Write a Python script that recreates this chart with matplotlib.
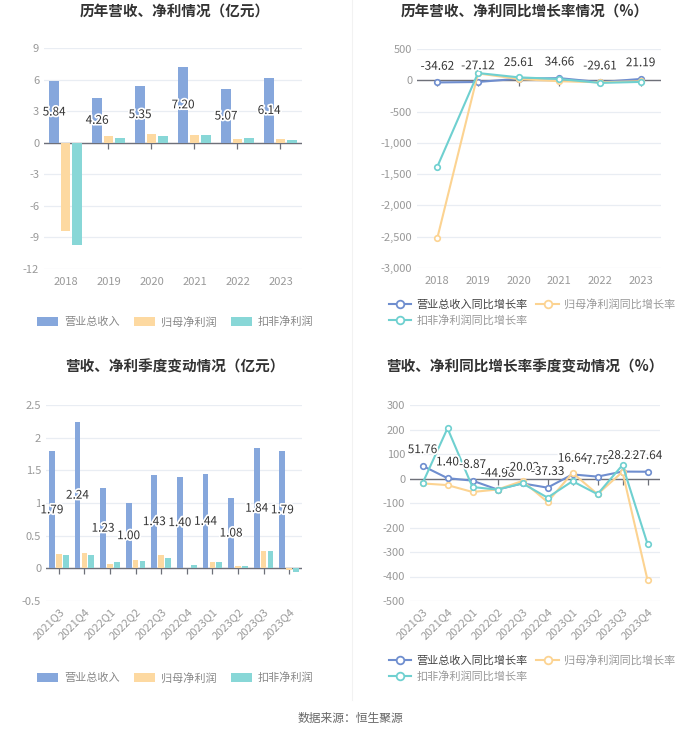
import matplotlib
matplotlib.use("Agg")
import matplotlib.pyplot as plt
import matplotlib.patheffects as pe
from matplotlib.patches import Patch
from matplotlib.lines import Line2D
from matplotlib.ticker import FuncFormatter
import numpy as np

plt.rcParams["font.family"] = ["Noto Sans CJK SC", "DejaVu Sans"]
plt.rcParams["axes.unicode_minus"] = False

# ---- data ----
YEARS = ["2018", "2019", "2020", "2021", "2022", "2023"]
REV_Y = [5.84, 4.26, 5.35, 7.20, 5.07, 6.14]
NP_Y = [-8.40, 0.65, 0.85, 0.78, 0.38, 0.32]
DNP_Y = [-9.75, 0.42, 0.62, 0.72, 0.42, 0.28]

REV_G_Y = [-34.62, -27.12, 25.61, 34.66, -29.61, 21.19]
NP_G_Y = [-2520, 110, 20, -15, -32, -15]
DNP_G_Y = [-1380, 116, 47, 20, -42, -26]

QUARTERS = ["2021Q3", "2021Q4", "2022Q1", "2022Q2", "2022Q3",
            "2022Q4", "2023Q1", "2023Q2", "2023Q3", "2023Q4"]
REV_Q = [1.79, 2.24, 1.23, 1.00, 1.43, 1.40, 1.44, 1.08, 1.84, 1.79]
NP_Q = [0.22, 0.23, 0.07, 0.12, 0.20, 0.01, 0.09, 0.04, 0.26, -0.02]
DNP_Q = [0.20, 0.20, 0.10, 0.11, 0.16, 0.05, 0.09, 0.04, 0.26, -0.06]

REV_G_Q = [51.76, 1.40, -8.87, -44.98, -20.02, -37.33, 16.64, 7.75, 28.23, 27.64]
NP_G_Q = [-20, -27, -55, -45, -10, -96, 23, -64, 27, -414]
DNP_G_Q = [-20, 205, -35, -45, -20, -78, -11, -64, 55, -267]

BAR_LABELS = ["营业总收入", "归母净利润", "扣非净利润"]
LINE_LABELS = ["营业总收入同比增长率", "归母净利润同比增长率", "扣非净利润同比增长率"]

BLUE, YELLOW, TEAL = "#86a7dc", "#fdd9a1", "#88d7d7"
LBLUE, LYELLOW, LTEAL = "#6f8ecf", "#fcd391", "#6fd0d0"
GRID = "#e9edf3"
TICK = "#999999"
W, H = 700, 734


def axes_px(fig, x0, y0, x1, y1):
    return fig.add_axes([x0 / W, 1 - y1 / H, (x1 - x0) / W, (y1 - y0) / H])


def style(ax, n, ylim, yticks, fmt=None):
    ax.set_xlim(-0.5, n - 0.5)
    ax.set_ylim(*ylim)
    ax.set_yticks(yticks)
    if fmt:
        ax.yaxis.set_major_formatter(FuncFormatter(fmt))
    for s in ax.spines.values():
        s.set_visible(False)
    ax.grid(axis="y", color=GRID, linewidth=0.9)
    ax.set_axisbelow(True)
    ax.tick_params(axis="both", length=0, colors=TICK, labelsize=8)
    ax.axhline(0, color="#6e7079", linewidth=1.0, zorder=2)
    ax.plot(np.arange(n), np.zeros(n), ls="none", marker=3, ms=4,
            color="#6e7079", mew=0.9, zorder=2)


def label(ax, x, y, txt, dy=0, va="center"):
    ax.annotate(txt, (x, y), xytext=(0, dy), textcoords="offset points",
                ha="center", va=va, fontsize=8.5, color="#333333", zorder=6,
                path_effects=[pe.withStroke(linewidth=2.5, foreground="white")])


def bar_legend(fig, ycen):
    handles = [Patch(facecolor=c, edgecolor="none") for c in (BLUE, YELLOW, TEAL)]
    fig.legend(handles, BAR_LABELS, loc="center",
               bbox_to_anchor=(175 / W, 1 - ycen / H), ncol=3, frameon=False,
               fontsize=8, labelcolor="#888888", handlelength=1.9,
               handleheight=0.9, columnspacing=1.3, handletextpad=0.5)


def line_legend(fig, ycen):
    handles = [Line2D([], [], color=c, lw=1.5, marker="o", ms=5.5, mfc="white",
                      mec=c, mew=1.3) for c in (LBLUE, LYELLOW, LTEAL)]
    order = [0, 2, 1]
    leg = fig.legend([handles[i] for i in order], [LINE_LABELS[i] for i in order],
                     loc="center", bbox_to_anchor=(532 / W, 1 - ycen / H), ncol=2,
                     frameon=False, fontsize=8, handlelength=2.0,
                     columnspacing=0.8, handletextpad=0.5, labelspacing=0.45)
    for t, c in zip(leg.get_texts(), ("#444444", "#999999", "#999999")):
        t.set_color(c)


fig = plt.figure(figsize=(W / 100, H / 100), dpi=100)

# ---- top-left: annual bars ----
ax = axes_px(fig, 44, 48, 302, 269)
x = np.arange(len(YEARS))
bw, off = 0.22, 0.265
ax.bar(x - off, REV_Y, bw, color=BLUE, zorder=3)
ax.bar(x, NP_Y, bw, color=YELLOW, zorder=3)
ax.bar(x + off, DNP_Y, bw, color=TEAL, zorder=3)
style(ax, len(YEARS), (-12, 9), np.arange(-12, 10, 3))
ax.set_xticks(x)
ax.set_xticklabels(YEARS)
ax.tick_params(axis="x", pad=6)
for i, v in enumerate(REV_Y):
    label(ax, i - off, v / 2, f"{v:.2f}")
bar_legend(fig, 322)

# ---- top-right: annual growth ----
ax = axes_px(fig, 417, 49, 661, 268)
for vals, c in ((REV_G_Y, LBLUE), (NP_G_Y, LYELLOW), (DNP_G_Y, LTEAL)):
    ax.plot(x, vals, color=c, lw=1.5, marker="o", ms=4, mfc="white",
            mec=c, mew=1.2, zorder=4)
style(ax, len(YEARS), (-3000, 500), np.arange(-3000, 501, 500),
      fmt=lambda v, p: f"{int(v):,}")
ax.set_xticks(x)
ax.set_xticklabels(YEARS)
ax.tick_params(axis="x", pad=6)
for i, v in enumerate(REV_G_Y):
    label(ax, i, v, f"{v:.2f}", dy=7, va="bottom")
line_legend(fig, 312)

# ---- bottom-left: quarterly bars ----
ax = axes_px(fig, 46, 405, 302, 601)
xq = np.arange(len(QUARTERS))
bw, off = 0.22, 0.27
ax.bar(xq - off, REV_Q, bw, color=BLUE, zorder=3)
ax.bar(xq, NP_Q, bw, color=YELLOW, zorder=3)
ax.bar(xq + off, DNP_Q, bw, color=TEAL, zorder=3)
style(ax, len(QUARTERS), (-0.5, 2.5), [-0.5, 0, 0.5, 1, 1.5, 2, 2.5],
      fmt=lambda v, p: f"{v:g}")
ax.set_xticks(xq)
ax.set_xticklabels(QUARTERS, rotation=45, ha="right", rotation_mode="anchor")
ax.tick_params(axis="x", pad=4)
for i, v in enumerate(REV_Q):
    label(ax, i - off, v / 2, f"{v:.2f}")
bar_legend(fig, 678)

# ---- bottom-right: quarterly growth ----
ax = axes_px(fig, 410, 405, 660, 601)
for vals, c in ((REV_G_Q, LBLUE), (NP_G_Q, LYELLOW), (DNP_G_Q, LTEAL)):
    ax.plot(xq, vals, color=c, lw=1.5, marker="o", ms=4, mfc="white",
            mec=c, mew=1.2, zorder=4)
style(ax, len(QUARTERS), (-500, 300), np.arange(-500, 301, 100))
ax.set_xticks(xq)
ax.set_xticklabels(QUARTERS, rotation=45, ha="right", rotation_mode="anchor")
ax.tick_params(axis="x", pad=4)
for i, v in enumerate(REV_G_Q):
    label(ax, i, v, f"{v:.2f}", dy=7, va="bottom")
line_legend(fig, 668)

# titles
for xc, yc, txt in ((175, 12, "历年营收、净利情况（亿元）"),
                    (525, 12, "历年营收、净利同比增长率情况（%）"),
                    (175, 367, "营收、净利季度变动情况（亿元）"),
                    (525, 367, "营收、净利同比增长率季度变动情况（%）")):
    fig.text(xc / W, 1 - yc / H, txt, ha="center", va="center",
             fontsize=10.5, fontweight="bold", color="#333333")

fig.add_artist(Line2D([352 / W, 352 / W], [1 - 700 / H, 1], color="#f2f2f2",
                      lw=0.8))
fig.text(0.5, 1 - 718 / H, "数据来源：恒生聚源", ha="center", va="center",
         fontsize=8.5, color="#666666")

fig.savefig("out.png", dpi=100)
